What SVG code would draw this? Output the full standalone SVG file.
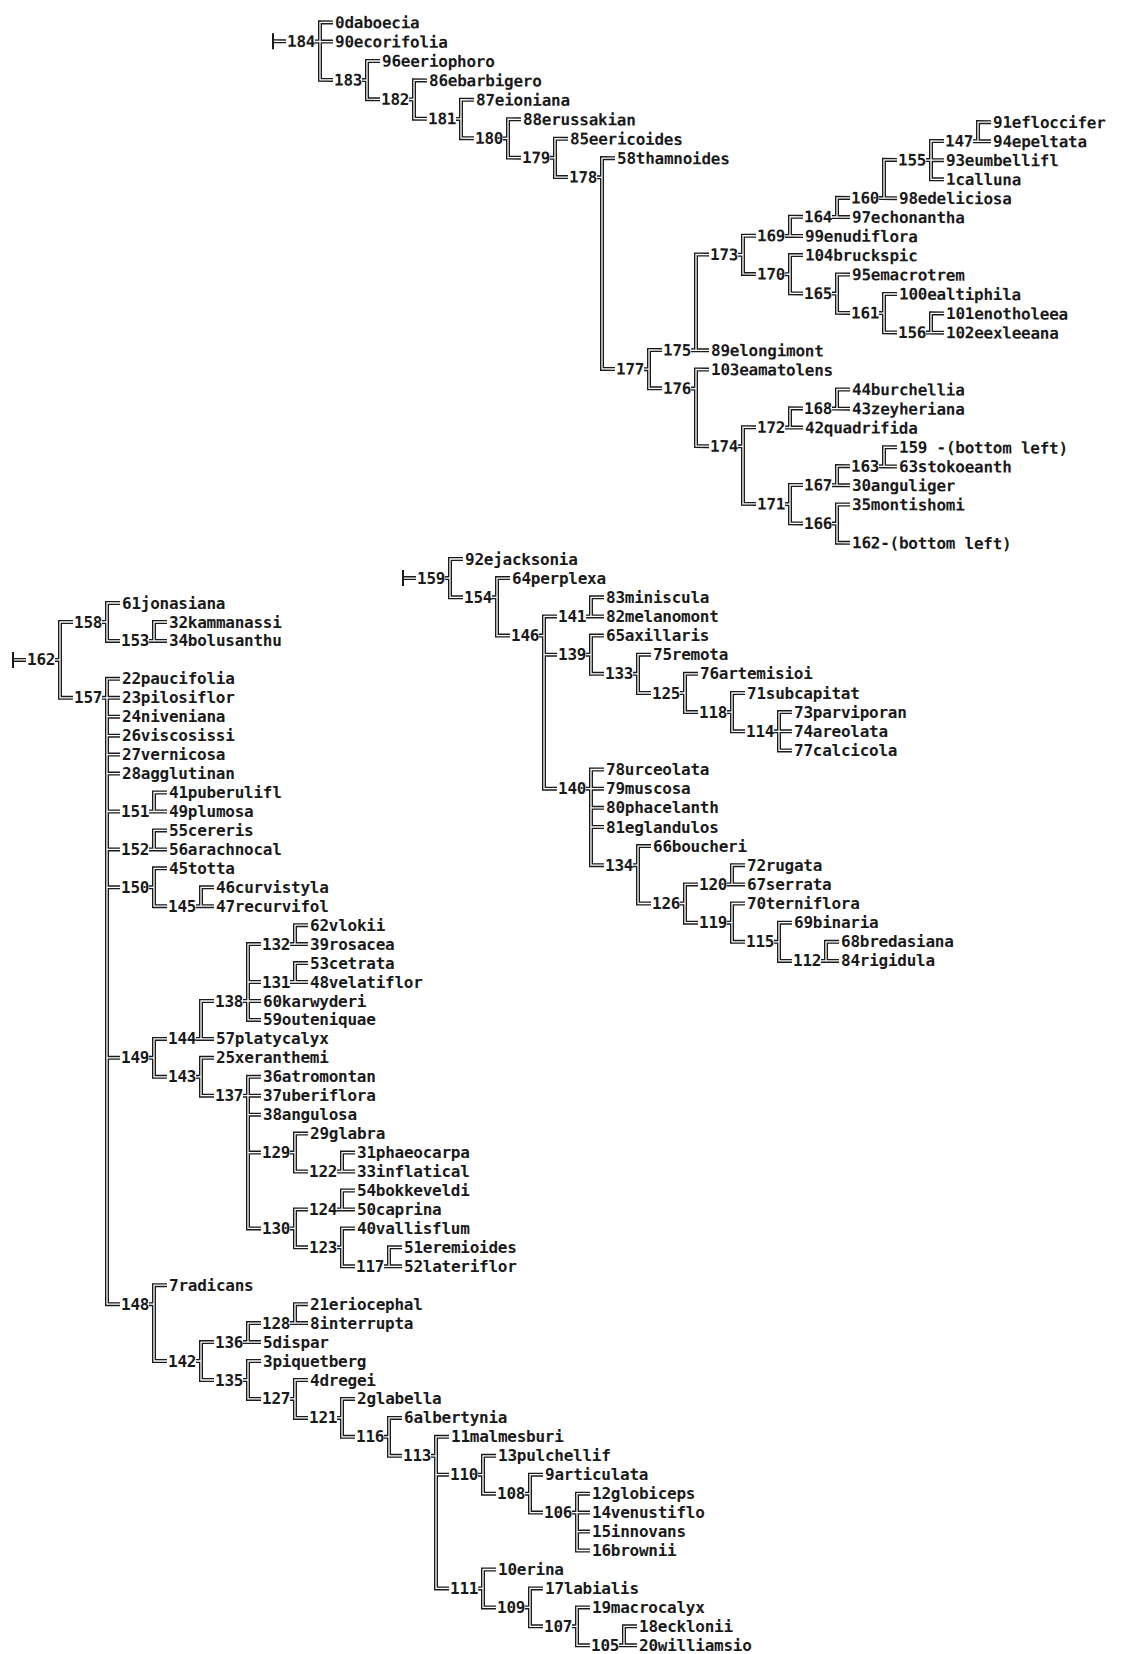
<svg xmlns="http://www.w3.org/2000/svg" xmlns:xlink="http://www.w3.org/1999/xlink" width="1123" height="1654" viewBox="0 0 1123 1654">
<style>
text{font-family:"DejaVu Sans Mono","Liberation Mono",monospace;font-size:16px;letter-spacing:-0.25px;font-weight:bold;fill:#1a1a1a}
.bar{fill:none;stroke:#1a1a1a;stroke-width:2}
</style>
<defs>
<g id="cp" fill="none" stroke-linecap="butt" stroke-linejoin="miter">
<g id="cp-top" transform="matrix(1,0.006,0,1,320,0.02)">
<path id="c184" d="M-47 41.5H-34M13 22.3H0V79.8H13M0 41.5H13M-5 41.5H0"/>
<path id="c183" d="M60 60.6H47V98.9H60M42 79.8H47"/>
<path id="c182" d="M107 79.8H94V118.1H107M89 98.9H94"/>
<path id="c181" d="M154 98.9H141V137.3H154M136 118.1H141"/>
<path id="c180" d="M201 118.1H188V156.4H201M183 137.3H188"/>
<path id="c179" d="M248 137.3H235V175.6H248M230 156.4H235"/>
<path id="c178" d="M295 156.4H282V367.2H295M277 175.6H282"/>
<path id="c177" d="M342 348H329V386.3H342M324 367.2H329"/>
<path id="c175" d="M389 252.2H376V348H389M371 348H376"/>
<path id="c176" d="M389 367.2H376V443.8H389M371 386.3H376"/>
<path id="c173" d="M436 233.1H423V271.4H436M418 252.2H423"/>
<path id="c174" d="M436 424.7H423V501.3H436M418 443.8H423"/>
<path id="c169" d="M483 213.9H470V233.1H483M465 233.1H470"/>
<path id="c170" d="M483 252.2H470V290.5H483M465 271.4H470"/>
<path id="c172" d="M483 405.5H470V424.7H483M465 424.7H470"/>
<path id="c171" d="M483 482.1H470V520.5H483M465 501.3H470"/>
<path id="c164" d="M530 194.7H517V213.9H530M512 213.9H517"/>
<path id="c165" d="M530 271.4H517V309.7H530M512 290.5H517"/>
<path id="c168" d="M530 386.3H517V405.5H530M512 405.5H517"/>
<path id="c167" d="M530 463H517V482.1H530M512 482.1H517"/>
<path id="c166" d="M530 501.3H517V539.6H530M512 520.5H517"/>
<path id="c160" d="M577 156.4H564V194.7H577M559 194.7H564"/>
<path id="c161" d="M577 290.5H564V328.9H577M559 309.7H564"/>
<path id="c163" d="M577 443.8H564V463H577M559 463H564"/>
<path id="c155" d="M624 137.3H611V175.6H624M611 156.4H624M606 156.4H611"/>
<path id="c156" d="M624 309.7H611V328.9H624M606 328.9H611"/>
<path id="c147" d="M671 118.1H658V137.3H671M653 137.3H658"/>
</g>
<g id="cp-mid" transform="translate(450,0)">
<path id="c159" d="M-47 578.1H-34M13 559H0V597.3H13M-5 578.1H0"/>
<path id="c154" d="M60 578.1H47V635.6H60M42 597.3H47"/>
<path id="c146" d="M107 616.4H94V788.7H107M94 654.7H107M89 635.6H94"/>
<path id="c141" d="M154 597.3H141V616.4H154M136 616.4H141"/>
<path id="c139" d="M154 635.6H141V673.8H154M136 654.7H141"/>
<path id="c133" d="M201 654.7H188V693H201M183 673.8H188"/>
<path id="c125" d="M248 673.8H235V712.1H248M230 693H235"/>
<path id="c118" d="M295 693H282V731.3H295M277 712.1H282"/>
<path id="c114" d="M342 712.1H329V750.4H342M329 731.3H342M324 731.3H329"/>
<path id="c140" d="M154 769.5H141V865.2H154M141 788.7H154M141 807.8H154M141 827H154M136 788.7H141"/>
<path id="c134" d="M201 846.1H188V903.5H201M183 865.2H188"/>
<path id="c126" d="M248 884.4H235V922.7H248M230 903.5H235"/>
<path id="c120" d="M295 865.2H282V884.4H295M277 884.4H282"/>
<path id="c119" d="M295 903.5H282V941.8H295M277 922.7H282"/>
<path id="c115" d="M342 922.7H329V960.9H342M324 941.8H329"/>
<path id="c112" d="M389 941.8H376V960.9H389M371 960.9H376"/>
</g>
<g id="cp-left" transform="translate(60,0)">
<path id="c162" d="M-47 659.9H-34M13 622H0V697.8H13M-5 659.9H0"/>
<path id="c158" d="M60 603H47V640.9H60M42 622H47"/>
<path id="c153" d="M107 622H94V640.9H107M89 640.9H94"/>
<path id="c157" d="M60 678.8H47V1304.2H60M47 697.8H60M47 716.7H60M47 735.7H60M47 754.6H60M47 773.6H60M47 811.5H60M47 849.4H60M47 887.3H60M47 1057.8H60M42 697.8H47"/>
<path id="c151" d="M107 792.5H94V811.5H107M89 811.5H94"/>
<path id="c152" d="M107 830.4H94V849.4H107M89 849.4H94"/>
<path id="c150" d="M107 868.3H94V906.2H107M89 887.3H94"/>
<path id="c145" d="M154 887.3H141V906.2H154M136 906.2H141"/>
<path id="c149" d="M107 1038.9H94V1076.8H107M89 1057.8H94"/>
<path id="c144" d="M154 1001H141V1038.9H154M136 1038.9H141"/>
<path id="c138" d="M201 944.1H188V1019.9H201M188 982H201M188 1001H201M183 1001H188"/>
<path id="c132" d="M248 925.2H235V944.1H248M230 944.1H235"/>
<path id="c131" d="M248 963.1H235V982H248M230 982H235"/>
<path id="c143" d="M154 1057.8H141V1095.7H154M136 1076.8H141"/>
<path id="c137" d="M201 1076.8H188V1228.4H201M188 1095.7H201M188 1114.7H201M188 1152.6H201M183 1095.7H188"/>
<path id="c129" d="M248 1133.6H235V1171.5H248M230 1152.6H235"/>
<path id="c122" d="M295 1152.6H282V1171.5H295M277 1171.5H282"/>
<path id="c130" d="M248 1209.4H235V1247.3H248M230 1228.4H235"/>
<path id="c124" d="M295 1190.5H282V1209.4H295M277 1209.4H282"/>
<path id="c123" d="M295 1228.4H282V1266.3H295M277 1247.3H282"/>
<path id="c117" d="M342 1247.3H329V1266.3H342M324 1266.3H329"/>
<path id="c148" d="M107 1285.2H94V1361H107M89 1304.2H94"/>
<path id="c142" d="M154 1342.1H141V1380H154M136 1361H141"/>
<path id="c136" d="M201 1323.1H188V1342.1H201M183 1342.1H188"/>
<path id="c128" d="M248 1304.2H235V1323.1H248M230 1323.1H235"/>
<path id="c135" d="M201 1361H188V1398.9H201M183 1380H188"/>
<path id="c127" d="M248 1380H235V1417.9H248M230 1398.9H235"/>
<path id="c121" d="M295 1398.9H282V1436.8H295M277 1417.9H282"/>
<path id="c116" d="M342 1417.9H329V1455.8H342M324 1436.8H329"/>
<path id="c113" d="M389 1436.8H376V1588.4H389M376 1474.7H389M371 1455.8H376"/>
<path id="c110" d="M436 1455.8H423V1493.7H436M418 1474.7H423"/>
<path id="c108" d="M483 1474.7H470V1512.6H483M465 1493.7H470"/>
<path id="c106" d="M530 1493.7H517V1550.5H530M517 1512.6H530M517 1531.6H530M512 1512.6H517"/>
<path id="c111" d="M436 1569.5H423V1607.4H436M418 1588.4H423"/>
<path id="c109" d="M483 1588.4H470V1626.3H483M465 1607.4H470"/>
<path id="c107" d="M530 1607.4H517V1645.3H530M512 1626.3H517"/>
<path id="c105" d="M577 1626.3H564V1645.3H577M559 1645.3H564"/>
</g>
</g>
</defs>
<rect width="1123" height="1654" fill="#fff"/>
<g id="connectors">
<use xlink:href="#cp" href="#cp" stroke="#1a1a1a" stroke-width="4"/>
<use xlink:href="#cp" href="#cp" stroke="#fff" stroke-width="1.3"/>
<path class="bar" transform="matrix(1,0.006,0,1,320,0.02)" d="M-47 33.5V49.5"/>
<path class="bar" d="M403 570.1V586.1M13 651.9V667.9"/>
</g>
<g id="tree-top" transform="matrix(1,0.006,0,1,320,0.02)">
<g id="n184"><text x="-33" y="47">184</text></g>
<g id="n183"><text x="14" y="85.3">183</text></g>
<g id="n182"><text x="61" y="104.4">182</text></g>
<g id="n181"><text x="108" y="123.6">181</text></g>
<g id="n180"><text x="155" y="142.8">180</text></g>
<g id="n179"><text x="202" y="161.9">179</text></g>
<g id="n178"><text x="249" y="181.1">178</text></g>
<g id="n177"><text x="296" y="372.7">177</text></g>
<g id="n175"><text x="343" y="353.5">175</text></g>
<g id="n176"><text x="343" y="391.8">176</text></g>
<g id="n173"><text x="390" y="257.7">173</text></g>
<g id="n174"><text x="390" y="449.3">174</text></g>
<g id="n169"><text x="437" y="238.6">169</text></g>
<g id="n170"><text x="437" y="276.9">170</text></g>
<g id="n172"><text x="437" y="430.2">172</text></g>
<g id="n171"><text x="437" y="506.8">171</text></g>
<g id="n164"><text x="484" y="219.4">164</text></g>
<g id="n165"><text x="484" y="296">165</text></g>
<g id="n168"><text x="484" y="411">168</text></g>
<g id="n167"><text x="484" y="487.6">167</text></g>
<g id="n166"><text x="484" y="526">166</text></g>
<g id="n160"><text x="531" y="200.2">160</text></g>
<g id="n161"><text x="531" y="315.2">161</text></g>
<g id="n163"><text x="531" y="468.5">163</text></g>
<g id="n155"><text x="578" y="161.9">155</text></g>
<g id="n156"><text x="578" y="334.4">156</text></g>
<g id="n147"><text x="625" y="142.8">147</text></g>
<g id="l0"><text x="15" y="27.8">0daboecia</text></g>
<g id="l90"><text x="15" y="47">90ecorifolia</text></g>
<g id="l96"><text x="62" y="66.1">96eeriophoro</text></g>
<g id="l86"><text x="109" y="85.3">86ebarbigero</text></g>
<g id="l87"><text x="156" y="104.4">87eioniana</text></g>
<g id="l88"><text x="203" y="123.6">88erussakian</text></g>
<g id="l85"><text x="250" y="142.8">85eericoides</text></g>
<g id="l58"><text x="297" y="161.9">58thamnoides</text></g>
<g id="l89"><text x="391" y="353.5">89elongimont</text></g>
<g id="l103"><text x="391" y="372.7">103eamatolens</text></g>
<g id="l99"><text x="485" y="238.6">99enudiflora</text></g>
<g id="l104"><text x="485" y="257.7">104bruckspic</text></g>
<g id="l42"><text x="485" y="430.2">42quadrifida</text></g>
<g id="l97"><text x="532" y="219.4">97echonantha</text></g>
<g id="l95"><text x="532" y="276.9">95emacrotrem</text></g>
<g id="l44"><text x="532" y="391.8">44burchellia</text></g>
<g id="l43"><text x="532" y="411">43zeyheriana</text></g>
<g id="l30"><text x="532" y="487.6">30anguliger</text></g>
<g id="l35"><text x="532" y="506.8">35montishomi</text></g>
<g id="ref162"><text x="532" y="545.1">162-(bottom left)</text></g>
<g id="l98"><text x="579" y="200.2">98edeliciosa</text></g>
<g id="l100"><text x="579" y="296">100ealtiphila</text></g>
<g id="ref159"><text x="579" y="449.3">159 -(bottom left)</text></g>
<g id="l63"><text x="579" y="468.5">63stokoeanth</text></g>
<g id="l93"><text x="626" y="161.9">93eumbellifl</text></g>
<g id="l1"><text x="626" y="181.1">1calluna</text></g>
<g id="l101"><text x="626" y="315.2">101enotholeea</text></g>
<g id="l102"><text x="626" y="334.4">102eexleeana</text></g>
<g id="l91"><text x="673" y="123.6">91efloccifer</text></g>
<g id="l94"><text x="673" y="142.8">94epeltata</text></g>
</g>
<g id="tree-mid" transform="translate(450,0)">
<g id="n159"><text x="-33" y="583.6">159</text></g>
<g id="n154"><text x="14" y="602.8">154</text></g>
<g id="n146"><text x="61" y="641.1">146</text></g>
<g id="n141"><text x="108" y="621.9">141</text></g>
<g id="n139"><text x="108" y="660.2">139</text></g>
<g id="n133"><text x="155" y="679.3">133</text></g>
<g id="n125"><text x="202" y="698.5">125</text></g>
<g id="n118"><text x="249" y="717.6">118</text></g>
<g id="n114"><text x="296" y="736.8">114</text></g>
<g id="n140"><text x="108" y="794.2">140</text></g>
<g id="n134"><text x="155" y="870.7">134</text></g>
<g id="n126"><text x="202" y="909">126</text></g>
<g id="n120"><text x="249" y="889.9">120</text></g>
<g id="n119"><text x="249" y="928.2">119</text></g>
<g id="n115"><text x="296" y="947.3">115</text></g>
<g id="n112"><text x="343" y="966.4">112</text></g>
<g id="l92"><text x="15" y="564.5">92ejacksonia</text></g>
<g id="l64"><text x="62" y="583.6">64perplexa</text></g>
<g id="l83"><text x="156" y="602.8">83miniscula</text></g>
<g id="l82"><text x="156" y="621.9">82melanomont</text></g>
<g id="l65"><text x="156" y="641.1">65axillaris</text></g>
<g id="l75"><text x="203" y="660.2">75remota</text></g>
<g id="l76"><text x="250" y="679.3">76artemisioi</text></g>
<g id="l71"><text x="297" y="698.5">71subcapitat</text></g>
<g id="l73"><text x="344" y="717.6">73parviporan</text></g>
<g id="l74"><text x="344" y="736.8">74areolata</text></g>
<g id="l77"><text x="344" y="755.9">77calcicola</text></g>
<g id="l78"><text x="156" y="775">78urceolata</text></g>
<g id="l79"><text x="156" y="794.2">79muscosa</text></g>
<g id="l80"><text x="156" y="813.3">80phacelanth</text></g>
<g id="l81"><text x="156" y="832.5">81eglandulos</text></g>
<g id="l66"><text x="203" y="851.6">66boucheri</text></g>
<g id="l72"><text x="297" y="870.7">72rugata</text></g>
<g id="l67"><text x="297" y="889.9">67serrata</text></g>
<g id="l70"><text x="297" y="909">70terniflora</text></g>
<g id="l69"><text x="344" y="928.2">69binaria</text></g>
<g id="l68"><text x="391" y="947.3">68bredasiana</text></g>
<g id="l84"><text x="391" y="966.4">84rigidula</text></g>
</g>
<g id="tree-left" transform="translate(60,0)">
<g id="n162"><text x="-33" y="665.4">162</text></g>
<g id="n158"><text x="14" y="627.5">158</text></g>
<g id="n153"><text x="61" y="646.4">153</text></g>
<g id="n157"><text x="14" y="703.3">157</text></g>
<g id="n151"><text x="61" y="817">151</text></g>
<g id="n152"><text x="61" y="854.9">152</text></g>
<g id="n150"><text x="61" y="892.8">150</text></g>
<g id="n145"><text x="108" y="911.7">145</text></g>
<g id="n149"><text x="61" y="1063.3">149</text></g>
<g id="n144"><text x="108" y="1044.4">144</text></g>
<g id="n138"><text x="155" y="1006.5">138</text></g>
<g id="n132"><text x="202" y="949.6">132</text></g>
<g id="n131"><text x="202" y="987.5">131</text></g>
<g id="n143"><text x="108" y="1082.3">143</text></g>
<g id="n137"><text x="155" y="1101.2">137</text></g>
<g id="n129"><text x="202" y="1158.1">129</text></g>
<g id="n122"><text x="249" y="1177">122</text></g>
<g id="n130"><text x="202" y="1233.9">130</text></g>
<g id="n124"><text x="249" y="1214.9">124</text></g>
<g id="n123"><text x="249" y="1252.8">123</text></g>
<g id="n117"><text x="296" y="1271.8">117</text></g>
<g id="n148"><text x="61" y="1309.7">148</text></g>
<g id="n142"><text x="108" y="1366.5">142</text></g>
<g id="n136"><text x="155" y="1347.6">136</text></g>
<g id="n128"><text x="202" y="1328.6">128</text></g>
<g id="n135"><text x="155" y="1385.5">135</text></g>
<g id="n127"><text x="202" y="1404.4">127</text></g>
<g id="n121"><text x="249" y="1423.4">121</text></g>
<g id="n116"><text x="296" y="1442.3">116</text></g>
<g id="n113"><text x="343" y="1461.3">113</text></g>
<g id="n110"><text x="390" y="1480.2">110</text></g>
<g id="n108"><text x="437" y="1499.2">108</text></g>
<g id="n106"><text x="484" y="1518.1">106</text></g>
<g id="n111"><text x="390" y="1593.9">111</text></g>
<g id="n109"><text x="437" y="1612.9">109</text></g>
<g id="n107"><text x="484" y="1631.8">107</text></g>
<g id="n105"><text x="531" y="1650.8">105</text></g>
<g id="l61"><text x="62" y="608.5">61jonasiana</text></g>
<g id="l32"><text x="109" y="627.5">32kammanassi</text></g>
<g id="l34"><text x="109" y="646.4">34bolusanthu</text></g>
<g id="l22"><text x="62" y="684.3">22paucifolia</text></g>
<g id="l23"><text x="62" y="703.3">23pilosiflor</text></g>
<g id="l24"><text x="62" y="722.2">24niveniana</text></g>
<g id="l26"><text x="62" y="741.2">26viscosissi</text></g>
<g id="l27"><text x="62" y="760.1">27vernicosa</text></g>
<g id="l28"><text x="62" y="779.1">28agglutinan</text></g>
<g id="l41"><text x="109" y="798">41puberulifl</text></g>
<g id="l49"><text x="109" y="817">49plumosa</text></g>
<g id="l55"><text x="109" y="835.9">55cereris</text></g>
<g id="l56"><text x="109" y="854.9">56arachnocal</text></g>
<g id="l45"><text x="109" y="873.8">45totta</text></g>
<g id="l46"><text x="156" y="892.8">46curvistyla</text></g>
<g id="l47"><text x="156" y="911.7">47recurvifol</text></g>
<g id="l62"><text x="250" y="930.7">62vlokii</text></g>
<g id="l39"><text x="250" y="949.6">39rosacea</text></g>
<g id="l53"><text x="250" y="968.6">53cetrata</text></g>
<g id="l48"><text x="250" y="987.5">48velatiflor</text></g>
<g id="l60"><text x="203" y="1006.5">60karwyderi</text></g>
<g id="l59"><text x="203" y="1025.4">59outeniquae</text></g>
<g id="l57"><text x="156" y="1044.4">57platycalyx</text></g>
<g id="l25"><text x="156" y="1063.3">25xeranthemi</text></g>
<g id="l36"><text x="203" y="1082.3">36atromontan</text></g>
<g id="l37"><text x="203" y="1101.2">37uberiflora</text></g>
<g id="l38"><text x="203" y="1120.2">38angulosa</text></g>
<g id="l29"><text x="250" y="1139.1">29glabra</text></g>
<g id="l31"><text x="297" y="1158.1">31phaeocarpa</text></g>
<g id="l33"><text x="297" y="1177">33inflatical</text></g>
<g id="l54"><text x="297" y="1196">54bokkeveldi</text></g>
<g id="l50"><text x="297" y="1214.9">50caprina</text></g>
<g id="l40"><text x="297" y="1233.9">40vallisflum</text></g>
<g id="l51"><text x="344" y="1252.8">51eremioides</text></g>
<g id="l52"><text x="344" y="1271.8">52lateriflor</text></g>
<g id="l7"><text x="109" y="1290.7">7radicans</text></g>
<g id="l21"><text x="250" y="1309.7">21eriocephal</text></g>
<g id="l8"><text x="250" y="1328.6">8interrupta</text></g>
<g id="l5"><text x="203" y="1347.6">5dispar</text></g>
<g id="l3"><text x="203" y="1366.5">3piquetberg</text></g>
<g id="l4"><text x="250" y="1385.5">4dregei</text></g>
<g id="l2"><text x="297" y="1404.4">2glabella</text></g>
<g id="l6"><text x="344" y="1423.4">6albertynia</text></g>
<g id="l11"><text x="391" y="1442.3">11malmesburi</text></g>
<g id="l13"><text x="438" y="1461.3">13pulchellif</text></g>
<g id="l9"><text x="485" y="1480.2">9articulata</text></g>
<g id="l12"><text x="532" y="1499.2">12globiceps</text></g>
<g id="l14"><text x="532" y="1518.1">14venustiflo</text></g>
<g id="l15"><text x="532" y="1537.1">15innovans</text></g>
<g id="l16"><text x="532" y="1556">16brownii</text></g>
<g id="l10"><text x="438" y="1575">10erina</text></g>
<g id="l17"><text x="485" y="1593.9">17labialis</text></g>
<g id="l19"><text x="532" y="1612.9">19macrocalyx</text></g>
<g id="l18"><text x="579" y="1631.8">18ecklonii</text></g>
<g id="l20"><text x="579" y="1650.8">20williamsio</text></g>
</g>
</svg>
